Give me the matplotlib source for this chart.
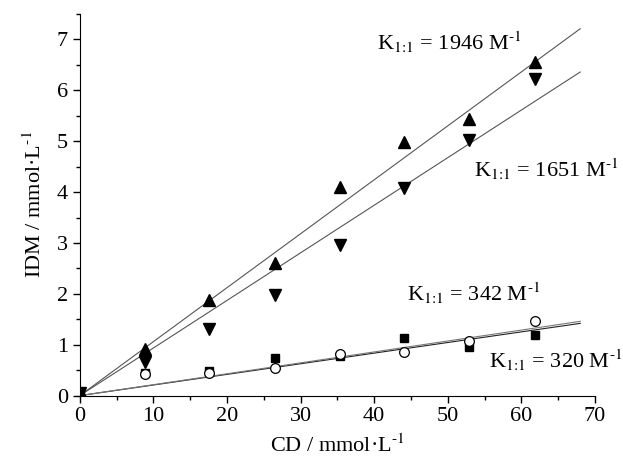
import matplotlib
matplotlib.use("Agg")
import matplotlib.pyplot as plt
import numpy as np
from matplotlib.ticker import MultipleLocator

plt.rcParams['font.family'] = ['Liberation Serif', 'DejaVu Serif']
plt.rcParams['mathtext.fontset'] = 'stix'

x = [0, 8.8, 17.6, 26.5, 35.3, 44.1, 52.9, 61.8]
up_tri = [0.05, 0.91, 1.88, 2.60, 4.10, 4.99, 5.44, 6.56]
down_tri = [0.05, 0.67, 1.30, 1.98, 2.96, 4.09, 5.02, 6.22]
squares = [0.05, 0.45, 0.49, 0.73, 0.78, 1.13, 0.96, 1.19]
circles = [0.0, 0.43, 0.44, 0.55, 0.82, 0.85, 1.08, 1.47]

fit_x = [0, 68]
fit_up = [0, 7.21]
fit_down = [0, 6.36]
fit_sq = [0, 1.42]
fit_ci = [0, 1.46]

labels = ["K$_{\\text{1:1}}$ = 1946 M$^{\\text{-1}}$", "K$_{\\text{1:1}}$ = 1651 M$^{\\text{-1}}$",
          "K$_{\\text{1:1}}$ = 342 M$^{\\text{-1}}$", "K$_{\\text{1:1}}$ = 320 M$^{\\text{-1}}$"]

fig = plt.figure(figsize=(6.23, 4.66), dpi=100)
ax = fig.add_axes([0.128, 0.151, 0.827, 0.819])

ax.plot(fit_x, fit_up, color='#555555', lw=0.8)
ax.plot(fit_x, fit_down, color='#555555', lw=0.8)
ax.plot(fit_x, fit_sq, color='#222222', lw=0.8)
ax.plot(fit_x, fit_ci, color='#777777', lw=0.8)

ax.plot(x, squares, 's', color='black', ms=6, ls='none')
ax.plot(x, circles, 'o', mfc='white', mec='black', mew=0.9, ms=7, ls='none')
ax.plot(x, up_tri, '^', color='black', ms=8, ls='none')
ax.plot(x, down_tri, 'v', color='black', ms=8, ls='none')

ax.set_xlim(0, 70)
ax.set_ylim(0, 7.5)
ax.xaxis.set_major_locator(MultipleLocator(10))
ax.xaxis.set_minor_locator(MultipleLocator(5))
ax.yaxis.set_major_locator(MultipleLocator(1))
ax.yaxis.set_minor_locator(MultipleLocator(0.5))
for s in ['top', 'right']:
    ax.spines[s].set_visible(False)
ax.tick_params(which='major', direction='out', length=5, width=1, labelsize=16)
ax.tick_params(which='minor', direction='out', length=3, width=1)
ax.set_xlabel("CD / mmol·L$^{\\text{-1}}$", fontsize=16, labelpad=6)
ax.set_ylabel("IDM / mmol·L$^{\\text{-1}}$", fontsize=16, labelpad=8)

ax.text(40.4, 6.79, labels[0], fontsize=16, va='baseline')
ax.text(53.5, 4.30, labels[1], fontsize=16, va='baseline')
ax.text(44.4, 1.85, labels[2], fontsize=16, va='baseline')
ax.text(55.6, 0.54, labels[3], fontsize=16, va='baseline')

fig.savefig("out.png", dpi=100)
